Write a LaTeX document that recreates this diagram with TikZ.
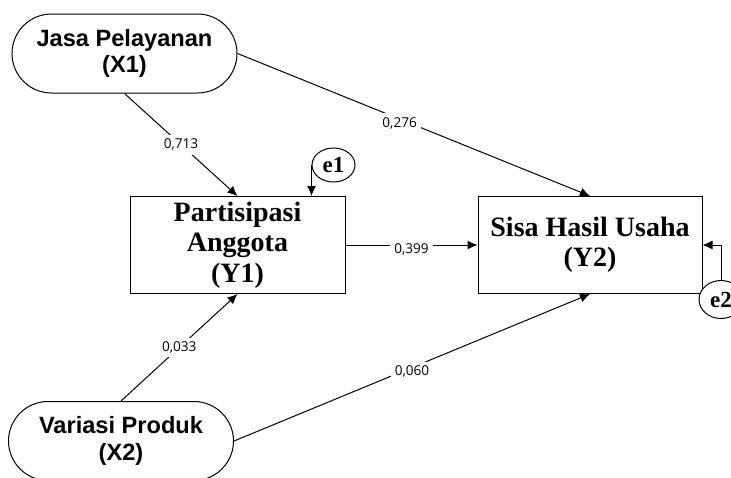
\documentclass[tikz,border=0pt]{standalone}
\usepackage{fontspec}
\setmainfont{Liberation Serif}
\newfontfamily\arialfont{Liberation Sans}
\newfontfamily\coeffont{Open Sans}
\usetikzlibrary{positioning,shapes.geometric,arrows.meta}

\tikzset{
  latent/.style={draw, rounded corners=19.75pt, minimum width=112.5pt, minimum height=39.5pt,
    align=center, font=\arialfont\bfseries\fontsize{11.8}{13.2}\selectfont},
  observed/.style={draw, minimum width=110pt, minimum height=48.5pt, inner ysep=1pt,
    align=center, font=\bfseries\fontsize{14}{15.2}\selectfont},
  error/.style={draw, ellipse, fill=white, inner sep=0pt, minimum width=22pt, minimum height=17pt,
    font=\bfseries\fontsize{11.5}{11.5}\selectfont},
  coef/.style={fill=white, inner sep=2pt, font=\coeffont\fontsize{6.8}{7}\selectfont}
}

\begin{document}
\begin{tikzpicture}[x=0.5pt, y=-0.5pt, on grid, line width=0.5pt, >={Latex[length=5pt,width=4.5pt]}]
  \useasboundingbox (0,0) rectangle (731,477);
  \node[observed, minimum width=107.5pt] (Y1) at (237.5,245) {Partisipasi\\Anggota\\(Y1)};
  \node[observed, minimum width=112pt] (Y2) [right=176.25pt of Y1] {Sisa Hasil Usaha\\(Y2)};
  \node[latent] (X1) [above left=95.75pt and 56.5pt of Y1] {Jasa Pelayanan\\(X1)};
  \node[latent] (X2) [below left=98pt and 58.25pt of Y1] {Variasi Produk\\(X2)};
  \node[error, minimum width=21.5pt] (e1) [above right=40pt and 48pt of Y1] {e1};
  \node[error, minimum height=19pt] (e2) [below right=27.25pt and 65.5pt of Y2] {e2};
  \path[->]
  (X1.south) edge node[coef] {0,713} (Y1.north)
  (X1.east) edge node[coef, pos=0.46, yshift=-2pt] {0,276} (Y2.north)
  (Y1.east) edge node[coef, yshift=-2pt] {0,399} (Y2.west)
  (X2.north) edge node[coef] {0,033} (Y1.south)
  (X2.east) edge node[coef, yshift=-2pt] {0,060} (Y2.south);
  \draw[->] (e1.west) -- (e1.west |- Y1.north);
  \draw[->] (e2.north) |- (Y2.east);
\end{tikzpicture}
\end{document}
